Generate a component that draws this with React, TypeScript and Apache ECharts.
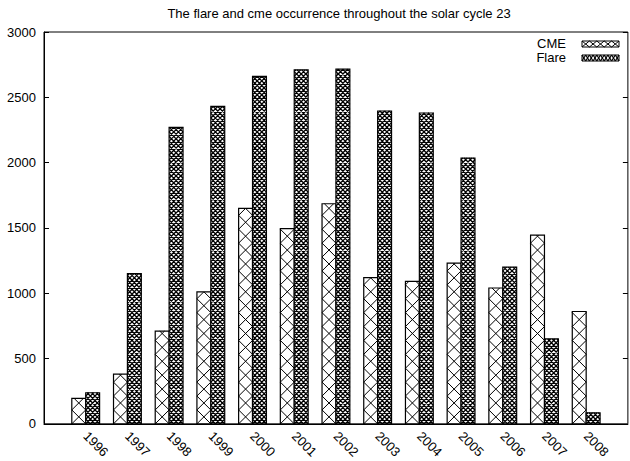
import { useEffect, useRef } from 'react';
import * as echarts from 'echarts';

// Yearly event counts over solar cycle 23
const YEARS = ['1996', '1997', '1998', '1999', '2000', '2001', '2002', '2003', '2004', '2005', '2006', '2007', '2008'];
const CME_COUNTS = [195, 380, 710, 1010, 1650, 1495, 1685, 1120, 1090, 1230, 1040, 1445, 860];
const FLARE_COUNTS = [238, 1150, 2270, 2430, 2660, 2710, 2715, 2395, 2380, 2035, 1200, 650, 85];
const SERIES_NAMES = ['CME', 'Flare'];
const TITLE = 'The flare and cme occurrence throughout the solar cycle 23';

const FONT = '"Liberation Sans", Arial, Helvetica, sans-serif';
const BAR_HALF = 1 / 6; // each bar is a third of a category slot

// Diagonal cross-hatch segments clipped to a rectangle, anchored at (ax, ay)
function hatchPath(x0: number, y0: number, x1: number, y1: number, p: number, ax: number, ay: number): string {
  let d = '';
  const eps = 1e-6;
  // lines y = x + c
  const base1 = ay - ax;
  let k = Math.ceil((y0 - x1 - base1) / p - eps);
  for (let c = base1 + k * p; c <= y1 - x0 + eps; c += p) {
    const xa = Math.max(x0, y0 - c);
    const xb = Math.min(x1, y1 - c);
    if (xb - xa > 0.01) d += `M${xa.toFixed(2)} ${(xa + c).toFixed(2)}L${xb.toFixed(2)} ${(xb + c).toFixed(2)}`;
  }
  // lines y = -x + c
  const base2 = ay + ax;
  k = Math.ceil((x0 + y0 - base2) / p - eps);
  for (let c = base2 + k * p; c <= x1 + y1 + eps; c += p) {
    const xa = Math.max(x0, c - y1);
    const xb = Math.min(x1, c - y0);
    if (xb - xa > 0.01) d += `M${xa.toFixed(2)} ${(c - xa).toFixed(2)}L${xb.toFixed(2)} ${(c - xb).toFixed(2)}`;
  }
  return d;
}

const makeRenderItem = (offset: number, divisions: number, hatchWidth: number) => (_params: any, api: any) => {
  const i = api.value(0) as number;
  const v = api.value(1) as number;
  const topLeft = api.coord([i + offset - BAR_HALF, v]);
  const bottomRight = api.coord([i + offset + BAR_HALF, 0]);
  const x0 = topLeft[0];
  const y0 = topLeft[1];
  const x1 = bottomRight[0];
  const y1 = bottomRight[1];
  const w = x1 - x0;
  const h = y1 - y0;
  const d = hatchPath(x0, y0, x1, y1, w / divisions, x0, y1);
  const children: any[] = [
    { type: 'rect', shape: { x: x0, y: y0, width: w, height: h }, style: { fill: '#fff' } },
  ];
  if (d) children.push({ type: 'path', shape: { pathData: d }, style: { fill: 'none', stroke: '#000', lineWidth: hatchWidth } });
  children.push({ type: 'rect', shape: { x: x0, y: y0, width: w, height: h }, style: { fill: 'none', stroke: '#000', lineWidth: 1.2 } });
  return { type: 'group', children };
};

// Key sample: a row of X cells inside an outlined box
function keySample(x: number, y: number, w: number, h: number, cells: number, lw: number) {
  const children: any[] = [
    { type: 'rect', shape: { x, y, width: w, height: h }, style: { fill: '#fff', stroke: '#000', lineWidth: 1 } },
  ];
  const cw = w / cells;
  for (let k = 0; k < cells; k++) {
    const a = x + k * cw;
    children.push({ type: 'line', shape: { x1: a, y1: y, x2: a + cw, y2: y + h }, style: { stroke: '#000', lineWidth: lw } });
    children.push({ type: 'line', shape: { x1: a, y1: y + h, x2: a + cw, y2: y }, style: { stroke: '#000', lineWidth: lw } });
  }
  return children;
}

export default function App() {
  const ref = useRef<HTMLDivElement>(null);

  useEffect(() => {
    if (!ref.current) return;
    const chart = echarts.init(ref.current, null, { renderer: 'svg' });
    const textStyle = { fontFamily: FONT, fontSize: 13, color: '#000' };

    chart.setOption({
      animation: false,
      backgroundColor: '#fff',
      textStyle,
      grid: {
        left: 44,
        top: 32,
        width: 590,
        height: 396,
        show: true,
        borderColor: '#000',
        borderWidth: 1,
        backgroundColor: 'transparent',
      },
      xAxis: {
        type: 'value',
        min: -1,
        max: 13,
        interval: 1,
        axisLine: { show: true, onZero: false, lineStyle: { color: '#000', width: 1 } },
        axisTick: { show: false },
        splitLine: { show: false },
        axisLabel: {
          ...textStyle,
          rotate: -45,
          margin: 10,
          verticalAlign: 'middle',
          formatter: (val: number) => {
            const i = Math.round(val);
            return i >= 0 && i < YEARS.length ? YEARS[i] : '';
          },
        },
      },
      yAxis: [
        {
          type: 'value',
          min: 0,
          max: 3000,
          interval: 500,
          axisLine: { show: true, onZero: false, lineStyle: { color: '#000', width: 1 } },
          axisTick: { show: true, inside: true, length: 5, lineStyle: { color: '#000' } },
          splitLine: { show: false },
          axisLabel: { ...textStyle, margin: 8, formatter: (val: number) => String(val) },
        },
        {
          type: 'value',
          position: 'right',
          min: 0,
          max: 3000,
          interval: 500,
          axisLine: { show: false, onZero: false },
          axisTick: { show: true, inside: true, length: 5, lineStyle: { color: '#000' } },
          splitLine: { show: false },
          axisLabel: { show: false },
        },
      ],
      series: [
        {
          type: 'custom',
          name: SERIES_NAMES[0],
          data: CME_COUNTS.map((v, i) => [i, v]),
          encode: { x: 0, y: 1 },
          renderItem: makeRenderItem(-BAR_HALF, 1, 1),
        },
        {
          type: 'custom',
          name: SERIES_NAMES[1],
          data: FLARE_COUNTS.map((v, i) => [i, v]),
          encode: { x: 0, y: 1 },
          renderItem: makeRenderItem(BAR_HALF, 3, 1.3),
        },
      ],
      graphic: [
        {
          type: 'text',
          x: 339,
          y: 13,
          style: { text: TITLE, fontFamily: FONT, fontSize: 13, fill: '#000', align: 'center', verticalAlign: 'middle' },
        },
        {
          type: 'text',
          x: 566,
          y: 43.5,
          style: { text: SERIES_NAMES[0], fontFamily: FONT, fontSize: 13, fill: '#000', align: 'right', verticalAlign: 'middle' },
        },
        { type: 'group', children: keySample(582, 41, 37, 6, 5, 1) },
        {
          type: 'text',
          x: 566,
          y: 57.5,
          style: { text: SERIES_NAMES[1], fontFamily: FONT, fontSize: 13, fill: '#000', align: 'right', verticalAlign: 'middle' },
        },
        { type: 'group', children: keySample(582, 55, 37, 6, 10, 1.2) },
      ],
    });

    return () => chart.dispose();
  }, []);

  return <div ref={ref} style={{ position: 'absolute', left: 0, top: 0, width: 630, height: 461 }} />;
}
